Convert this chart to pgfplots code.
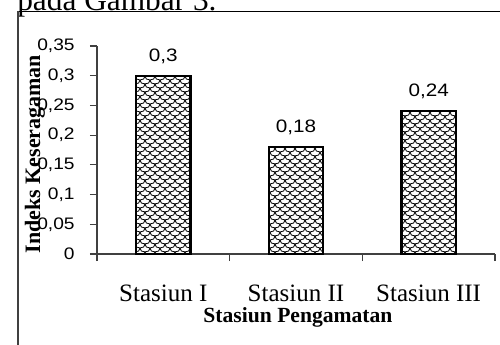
\documentclass[border=0pt]{standalone}
\usepackage{pgfplots}
\pgfplotsset{compat=1.18}
\usepackage{pgfplotstable}
\usetikzlibrary{patterns}
\usepackage{fontspec}
\setmainfont{Liberation Serif}
\newfontfamily\arial[FakeStretch=1.15]{Liberation Sans}

\pgfdeclarepatternformonly{scales}{\pgfqpoint{-0.5pt}{-0.5pt}}{\pgfqpoint{8pt}{6.5pt}}{\pgfqpoint{7.5pt}{6pt}}{%
  \pgfsetlinewidth{0.6pt}%
  \pgfpathmoveto{\pgfqpoint{0pt}{6pt}}%
  \pgfpathcurveto{\pgfqpoint{0pt}{4pt}}{\pgfqpoint{1.5pt}{3pt}}{\pgfqpoint{3.75pt}{3pt}}%
  \pgfpathcurveto{\pgfqpoint{6pt}{3pt}}{\pgfqpoint{7.5pt}{4pt}}{\pgfqpoint{7.5pt}{6pt}}%
  \pgfpathmoveto{\pgfqpoint{0pt}{0pt}}%
  \pgfpathcurveto{\pgfqpoint{2.25pt}{0pt}}{\pgfqpoint{3.75pt}{1pt}}{\pgfqpoint{3.75pt}{3pt}}%
  \pgfpathcurveto{\pgfqpoint{3.75pt}{1pt}}{\pgfqpoint{5.25pt}{0pt}}{\pgfqpoint{7.5pt}{0pt}}%
  \pgfusepath{stroke}}

\pgfplotstableread{
x y lab
0 0.30 {0,3}
1 0.18 {0,18}
2 0.24 {0,24}
}\data

\begin{document}
\begin{tikzpicture}
\useasboundingbox (0,0) rectangle (375pt,258pt);
\clip (0,0) rectangle (375pt,258pt);
% page context
\node[anchor=base west, inner sep=0pt, font=\fontsize{23.5}{26}\selectfont] at (12.75pt,250.5pt) {pada Gambar 3.};
\draw[black, line width=1pt] (13.5pt,249.4pt) -- (380pt,249.4pt);
\draw[black!75, line width=1pt] (13.5pt,249.4pt) -- (13.5pt,-5pt);
\begin{axis}[
  at={(72.75pt,67.5pt)}, anchor=south west,
  scale only axis, width=298.5pt, height=156pt,
  xmin=-0.5, xmax=2.5, ymin=0, ymax=0.35,
  axis x line*=bottom, axis y line*=left,
  axis line style={black!75, line width=0.9pt, -},
  every tick/.style={black!75, line width=0.9pt},
  tick align=outside,
  major tick length=5.25pt, minor tick length=5.25pt,
  xtick={0,1,2},
  xticklabels={Stasiun I, Stasiun II, Stasiun III},
  major x tick style={draw=none},
  minor xtick={-0.5,0.5,1.5,2.5},
  ytick={0,0.05,...,0.35},
  xticklabel style={font=\fontsize{18.75}{20}\selectfont, anchor=base, yshift=-30pt},
  yticklabel style={font=\arial\fontsize{12.5}{14}\selectfont, /pgf/number format/fixed, /pgf/number format/precision=2, /pgf/number format/use comma, /pgf/number format/assume math mode=true, anchor=east, xshift=-8pt},
  xlabel={Stasiun Pengamatan},
  ylabel={Indeks Keseragaman},
  every axis x label/.style={at={(axis description cs:0.505,-0.327)}, anchor=base, font=\bfseries\fontsize{16.2}{18}\selectfont},
  every axis y label/.style={at={(axis description cs:-0.156,0.48)}, anchor=center, rotate=90, font=\bfseries\fontsize{16.5}{18}\selectfont},
  ybar, bar width=0.41,
  nodes near coords, point meta=explicit symbolic,
  every node near coord/.append style={font=\arial\fontsize{13.5}{15}\selectfont, anchor=base, yshift=11pt, inner sep=0pt},
  clip=false,
]
\addplot[draw=black, line width=1.6pt, fill=white, postaction={pattern=scales}] table[x=x, y=y, meta=lab] {\data};
\end{axis}
\end{tikzpicture}
\end{document}
